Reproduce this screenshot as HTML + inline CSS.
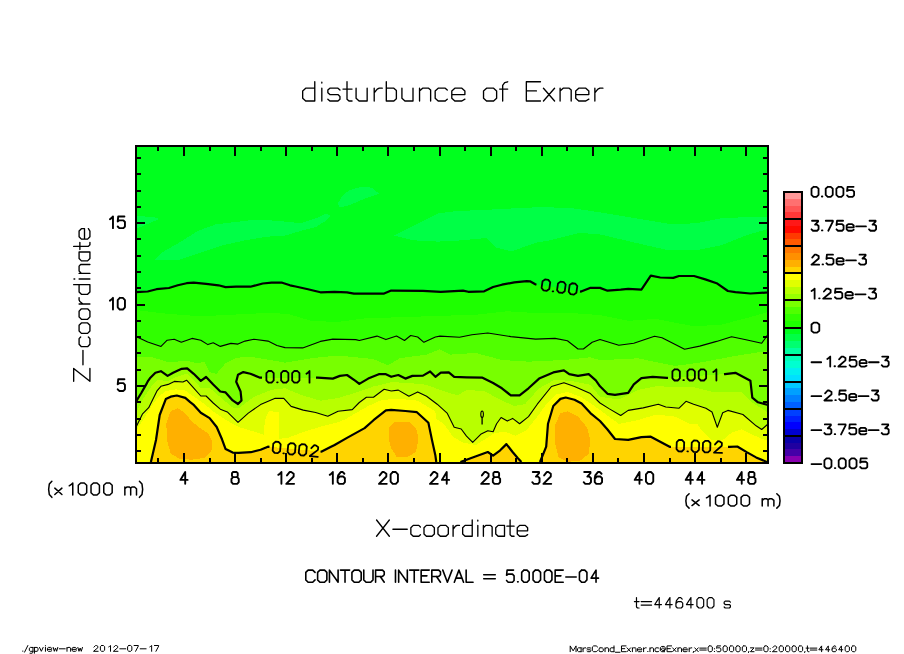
<!DOCTYPE html>
<html><head><meta charset="utf-8"><style>
html,body{margin:0;padding:0;background:#fff;width:904px;height:654px;overflow:hidden}
svg{display:block}
</style></head><body>
<svg width="904" height="654" viewBox="0 0 904 654" shape-rendering="crispEdges">
<svg x="136" y="146" width="632" height="317" viewBox="136 146 632 317" overflow="hidden"><rect x="136" y="146" width="632" height="317" fill="#00ff1e"/><polygon points="154.5,259.9 161.8,252.6 178.9,242.8 198.5,230.6 215.7,224.4 235.2,222.0 257.3,219.5 276.8,220.8 301.3,223.2 316.0,218.3 325.8,213.4 330.7,215.9 325.8,220.8 316.0,226.9 301.3,230.6 286.6,235.4 267.0,236.7 245.0,240.3 223.0,245.2 201.0,252.6 178.9,259.9" fill="#00ff46"/><polygon points="136.0,216.0 153.0,217.0 159.0,219.0 150.0,223.0 136.0,229.0" fill="#00ff46"/><polygon points="337.5,204.0 343.0,195.0 350.0,190.0 362.0,186.5 372.0,187.7 379.0,193.8 364.5,198.7 350.0,205.0 340.0,207.5" fill="#00ff46"/><polygon points="393.8,235.4 413.4,225.7 437.9,213.4 457.5,211.0 486.8,209.8 511.3,208.5 535.8,207.3 550.0,207.3 574.5,208.5 599.0,212.2 635.7,218.3 672.4,224.4 696.8,223.2 721.3,218.3 745.8,217.1 768.0,217.0 768.0,229.0 745.8,235.4 721.3,245.2 696.8,250.1 667.5,250.1 635.7,242.8 599.0,234.2 579.4,233.0 550.0,240.3 535.8,242.8 511.3,251.4 496.6,247.7 486.8,237.9 462.4,240.3 437.9,241.6 413.4,240.3" fill="#00ff46"/><polygon points="136.0,292.2 147.7,291.5 156.5,289.2 168.9,288.0 177.8,285.3 186.6,283.2 193.7,282.7 206.1,283.9 218.5,285.3 225.6,287.1 236.2,286.7 250.4,286.7 262.7,283.5 271.6,282.7 282.2,282.7 290.0,285.3 295.6,286.5 308.0,289.2 320.4,292.3 334.6,291.8 347.0,292.3 354.0,293.6 384.1,293.6 391.2,290.6 423.0,290.9 440.8,291.8 463.0,290.6 468.3,291.8 484.2,291.3 493.1,287.0 501.9,284.7 514.3,282.4 526.7,281.2 530.0,281.3 535.3,284.3 581.1,291.6 590.0,287.9 600.0,287.9 607.5,290.7 620.7,289.7 628.2,288.8 641.4,289.7 650.8,275.6 660.2,277.5 673.3,277.9 679.0,276.0 694.0,276.0 705.3,279.4 716.6,283.2 727.9,291.0 735.4,292.2 750.4,293.5 765.5,292.6 768.0,292.5 768.0,465.0 136.0,465.0" fill="#1eff00"/><polygon points="136.0,310.0 165.4,313.6 200.8,316.3 236.2,314.5 271.6,312.7 290.0,314.5 311.5,321.0 338.1,321.9 364.6,318.4 391.2,317.5 417.7,316.6 445.0,315.7 475.4,314.8 507.3,311.3 537.3,313.1 572.7,313.1 600.0,315.1 628.2,320.8 656.4,318.9 694.0,326.4 722.2,324.5 750.4,317.0 768.0,312.0 768.0,465.0 136.0,465.0" fill="#30ff00"/><polygon points="136.0,336.6 147.7,342.0 161.0,346.4 167.2,340.2 174.2,339.3 181.3,342.3 192.0,338.4 200.8,340.2 207.9,344.6 213.2,342.8 220.3,346.4 230.9,343.4 238.0,344.1 245.0,341.1 253.9,339.3 268.0,341.1 276.9,345.5 285.0,347.6 302.7,347.9 320.4,341.4 332.8,339.1 355.8,339.6 359.3,340.5 377.0,336.1 385.9,339.6 396.5,336.1 404.5,340.5 410.7,335.5 417.7,337.0 423.9,342.3 435.4,337.0 440.0,336.1 459.5,337.3 471.9,334.8 487.8,333.0 510.8,336.6 535.6,339.1 555.0,338.4 567.4,340.8 578.0,349.0 583.4,349.0 592.2,342.3 600.0,339.5 618.8,345.2 633.8,343.3 654.5,336.2 662.0,337.7 684.6,349.3 699.7,346.1 716.6,341.4 731.6,336.7 744.8,339.5 761.7,343.3 766.4,336.7 768.0,334.0 768.0,465.0 136.0,465.0" fill="#50ff00"/><polygon points="136.0,356.6 150.0,356.6 169.8,362.5 185.7,360.5 196.4,363.2 204.3,361.9 209.6,372.0 216.3,374.0 225.6,363.2 236.2,357.9 250.0,356.6 285.0,362.6 311.5,358.2 338.1,355.5 373.5,359.1 387.7,365.3 400.0,358.2 426.6,354.6 440.0,349.3 450.6,354.6 475.4,352.9 502.0,360.0 528.5,361.7 563.9,360.0 590.4,357.3 600.0,360.2 637.6,358.3 675.2,365.9 703.4,362.1 731.6,356.5 768.0,350.8 768.0,465.0 136.0,465.0" fill="#78ff00"/><polygon points="136.0,401.6 141.3,393.0 146.2,384.4 148.1,380.8 149.9,378.3 155.4,372.8 160.9,371.2 167.6,375.9 173.1,372.8 181.7,368.8 187.2,368.3 193.7,373.8 200.8,380.9 206.1,377.0 213.2,384.5 220.3,391.5 225.6,392.4 232.7,400.4 238.0,404.0 241.5,400.4 240.6,391.5 236.2,381.8 238.0,374.7 243.3,372.1 250.4,373.8 260.1,377.7 317.7,377.7 332.8,378.6 339.9,375.9 347.0,375.0 355.8,381.2 359.3,383.9 368.2,378.6 378.8,374.2 385.9,374.2 391.2,376.8 398.3,375.0 405.4,378.6 412.4,375.9 423.0,375.6 430.1,371.5 435.4,376.8 440.8,372.7 448.8,372.4 454.2,376.8 466.5,377.3 482.5,377.7 493.1,383.0 501.9,388.3 510.8,395.4 519.6,395.4 528.5,388.3 539.1,378.6 553.3,372.4 563.9,370.3 569.2,374.2 578.0,375.9 588.7,374.2 595.8,380.4 600.0,386.3 607.5,393.8 615.0,394.8 628.2,392.9 633.8,384.4 641.4,378.2 652.7,376.9 666.8,377.9 725.0,374.1 735.4,372.8 750.4,380.7 752.3,397.6 758.0,402.3 768.0,405.0 768.0,465.0 136.0,465.0" fill="#98ff00"/><polygon points="136.0,412.6 143.8,397.9 151.1,386.9 158.4,379.6 167.0,381.4 174.3,377.7 182.9,374.7 187.8,374.1 194.0,380.2 200.8,388.0 209.6,388.0 222.0,398.6 232.7,407.5 239.7,407.5 253.9,396.9 271.6,389.8 285.0,388.3 302.7,395.4 320.4,400.7 338.1,398.0 355.8,392.7 373.5,386.5 391.2,382.1 408.9,383.0 426.6,384.8 440.0,390.0 457.7,395.4 466.5,390.0 484.2,391.0 502.0,400.7 514.3,406.0 525.0,404.2 539.1,388.3 555.0,379.5 572.7,381.2 590.4,384.8 600.0,396.7 618.8,399.5 637.6,390.0 656.4,386.3 694.0,387.3 712.8,392.0 741.0,392.0 750.4,401.4 768.0,412.6 768.0,465.0 136.0,465.0" fill="#b8ff00"/><polygon points="136.0,427.2 142.6,413.8 148.7,407.7 157.2,390.6 160.9,386.3 168.2,384.4 174.3,381.4 182.9,382.0 186.6,380.2 192.0,386.2 200.8,396.0 206.1,396.0 213.2,403.0 220.3,409.2 227.3,411.9 238.0,422.3 248.3,413.1 260.6,404.6 275.2,398.2 283.8,398.4 291.1,406.4 303.3,410.1 315.6,412.5 327.8,416.2 338.1,411.3 352.3,409.6 359.3,402.5 366.4,397.2 373.5,397.2 384.1,389.2 391.2,391.0 398.3,390.1 408.9,396.3 417.7,391.9 426.6,396.3 437.2,404.2 447.1,413.1 454.2,427.3 461.2,429.0 466.5,436.1 472.7,442.3 480.7,434.3 487.8,430.8 493.1,431.7 496.6,423.7 501.1,417.5 507.3,421.1 512.6,418.4 519.6,423.7 528.5,416.6 537.3,404.2 551.5,386.5 563.9,382.7 574.5,386.5 590.4,393.6 600.0,403.0 609.4,408.9 620.7,415.5 628.2,410.4 643.2,407.9 658.3,404.2 665.8,407.0 679.1,408.2 686.0,401.3 693.6,404.3 705.9,408.2 712.0,412.0 717.3,427.3 722.7,412.8 727.9,410.4 742.9,414.5 756.1,425.8 761.7,429.5 768.0,424.0 768.0,465.0 136.0,465.0" fill="#e0ff00"/><polygon points="136.0,431.0 146.2,415.0 152.3,405.2 158.4,396.7 165.8,391.2 175.6,389.3 185.3,390.6 194.0,396.7 204.3,403.9 215.0,412.8 225.6,419.9 238.3,426.9 251.5,430.8 263.5,434.8 265.0,420.0 268.8,410.9 279.4,412.3 279.4,438.8 288.7,437.5 299.3,433.5 311.3,429.5 324.6,425.5 337.9,422.2 345.0,419.5 355.8,413.1 368.2,406.0 382.3,399.8 400.0,398.9 417.7,400.7 435.4,411.3 436.0,418.5 444.0,424.0 453.3,437.0 462.5,442.3 475.8,445.0 486.4,438.4 494.4,433.1 505.0,431.8 515.6,435.8 526.3,430.5 536.9,417.2 547.5,402.6 556.0,394.6 567.4,391.9 581.6,397.2 600.0,410.0 618.8,423.9 637.6,420.2 656.4,414.5 675.3,416.6 690.0,424.0 697.5,424.4 701.8,430.3 711.4,440.0 722.1,440.5 731.8,432.5 741.4,429.3 750.0,433.5 759.6,437.8 768.0,441.0 768.0,465.0 136.0,465.0" fill="#ffff00"/><polygon points="150.9,462.0 156.0,440.0 159.7,415.0 165.8,399.1 170.7,396.7 176.8,395.5 185.3,397.9 190.2,402.2 194.0,405.2 200.8,412.8 209.6,418.1 216.7,427.0 222.0,439.3 225.6,449.1 232.7,452.6 238.6,452.8 250.8,452.2 260.6,449.8 267.9,446.7 321.7,451.6 330.0,447.3 334.6,445.0 347.0,437.9 364.6,428.1 373.5,420.2 385.9,410.4 391.2,409.9 405.4,411.0 416.9,412.2 428.4,422.8 431.9,439.6 435.4,455.6 436.3,462.0 436.3,465.0 150.9,465.0" fill="#ffd400"/><polygon points="460.4,462.0 475.4,456.5 487.8,452.0 493.1,455.6 500.2,450.3 506.4,444.1 512.6,452.0 517.9,458.2 521.4,462.0 521.4,465.0 460.4,465.0" fill="#ffd400"/><polygon points="540.0,462.0 546.2,446.7 548.0,423.7 553.3,406.0 560.4,398.9 565.7,397.5 574.5,399.8 581.6,403.4 590.4,413.1 600.0,421.0 607.5,429.5 615.0,439.0 628.2,439.9 641.4,437.1 650.8,436.7 660.2,441.8 669.6,446.8 729.7,446.8 737.3,446.5 746.7,452.1 756.1,457.4 768.0,462.4 768.0,465.0 540.0,465.0" fill="#ffd400"/><polygon points="166.3,423.4 170.7,411.0 177.8,408.4 184.9,412.8 192.0,421.6 200.8,428.7 207.9,433.1 212.3,441.1 211.4,451.7 204.3,457.9 192.0,459.7 179.6,458.8 170.7,453.5 167.2,441.1" fill="#ffb000"/><polygon points="389.4,427.3 394.7,421.9 408.9,421.9 416.0,428.1 418.6,437.9 416.0,452.0 407.1,457.3 396.5,456.5 391.2,448.5 388.5,437.9" fill="#ffb000"/><polygon points="555.0,425.5 560.4,413.1 567.4,411.3 578.0,416.6 586.9,427.3 590.4,439.6 588.7,453.8 579.8,460.9 567.4,461.8 558.6,457.3 555.0,443.2" fill="#ffb000"/></svg><g shape-rendering="auto"><polyline points="136.0,292.2 147.7,291.5 156.5,289.2 168.9,288.0 177.8,285.3 186.6,283.2 193.7,282.7 206.1,283.9 218.5,285.3 225.6,287.1 236.2,286.7 250.4,286.7 262.7,283.5 271.6,282.7 282.2,282.7 290.0,285.3 295.6,286.5 308.0,289.2 320.4,292.3 334.6,291.8 347.0,292.3 354.0,293.6 384.1,293.6 391.2,290.6 423.0,290.9 440.8,291.8 463.0,290.6 468.3,291.8 484.2,291.3 493.1,287.0 501.9,284.7 514.3,282.4 526.7,281.2 530.0,281.3 535.3,284.3 536.5,284.5" fill="none" stroke="#000" stroke-width="2.2" stroke-linejoin="round"/><polyline points="580.0,291.4 581.1,291.6 590.0,287.9 600.0,287.9 607.5,290.7 620.7,289.7 628.2,288.8 641.4,289.7 650.8,275.6 660.2,277.5 673.3,277.9 679.0,276.0 694.0,276.0 705.3,279.4 716.6,283.2 727.9,291.0 735.4,292.2 750.4,293.5 765.5,292.6 768.0,292.5" fill="none" stroke="#000" stroke-width="2.2" stroke-linejoin="round"/><polyline points="136.0,336.6 147.7,342.0 161.0,346.4 167.2,340.2 174.2,339.3 181.3,342.3 192.0,338.4 200.8,340.2 207.9,344.6 213.2,342.8 220.3,346.4 230.9,343.4 238.0,344.1 245.0,341.1 253.9,339.3 268.0,341.1 276.9,345.5 285.0,347.6 302.7,347.9 320.4,341.4 332.8,339.1 355.8,339.6 359.3,340.5 377.0,336.1 385.9,339.6 396.5,336.1 404.5,340.5 410.7,335.5 417.7,337.0 423.9,342.3 435.4,337.0 440.0,336.1 459.5,337.3 471.9,334.8 487.8,333.0 510.8,336.6 535.6,339.1 555.0,338.4 567.4,340.8 578.0,349.0 583.4,349.0 592.2,342.3 600.0,339.5 618.8,345.2 633.8,343.3 654.5,336.2 662.0,337.7 684.6,349.3 699.7,346.1 716.6,341.4 731.6,336.7 744.8,339.5 761.7,343.3 766.4,336.7 768.0,334.0" fill="none" stroke="#000" stroke-width="1.1" stroke-linejoin="round"/><polyline points="136.0,401.6 141.3,393.0 146.2,384.4 148.1,380.8 149.9,378.3 155.4,372.8 160.9,371.2 167.6,375.9 173.1,372.8 181.7,368.8 187.2,368.3 193.7,373.8 200.8,380.9 206.1,377.0 213.2,384.5 220.3,391.5 225.6,392.4 232.7,400.4 238.0,404.0 241.5,400.4 240.6,391.5 236.2,381.8 238.0,374.7 243.3,372.1 250.4,373.8 260.1,377.7 262.0,377.7" fill="none" stroke="#000" stroke-width="2.2" stroke-linejoin="round"/><polyline points="316.0,377.7 317.7,377.7 332.8,378.6 339.9,375.9 347.0,375.0 355.8,381.2 359.3,383.9 368.2,378.6 378.8,374.2 385.9,374.2 391.2,376.8 398.3,375.0 405.4,378.6 412.4,375.9 423.0,375.6 430.1,371.5 435.4,376.8 440.8,372.7 448.8,372.4 454.2,376.8 466.5,377.3 482.5,377.7 493.1,383.0 501.9,388.3 510.8,395.4 519.6,395.4 528.5,388.3 539.1,378.6 553.3,372.4 563.9,370.3 569.2,374.2 578.0,375.9 588.7,374.2 595.8,380.4 600.0,386.3 607.5,393.8 615.0,394.8 628.2,392.9 633.8,384.4 641.4,378.2 652.7,376.9 666.8,377.9 668.0,377.8" fill="none" stroke="#000" stroke-width="2.2" stroke-linejoin="round"/><polyline points="724.0,374.2 725.0,374.1 735.4,372.8 750.4,380.7 752.3,397.6 758.0,402.3 768.0,405.0" fill="none" stroke="#000" stroke-width="2.2" stroke-linejoin="round"/><polyline points="136.0,427.2 142.6,413.8 148.7,407.7 157.2,390.6 160.9,386.3 168.2,384.4 174.3,381.4 182.9,382.0 186.6,380.2 192.0,386.2 200.8,396.0 206.1,396.0 213.2,403.0 220.3,409.2 227.3,411.9 238.0,422.3 248.3,413.1 260.6,404.6 275.2,398.2 283.8,398.4 291.1,406.4 303.3,410.1 315.6,412.5 327.8,416.2 338.1,411.3 352.3,409.6 359.3,402.5 366.4,397.2 373.5,397.2 384.1,389.2 391.2,391.0 398.3,390.1 408.9,396.3 417.7,391.9 426.6,396.3 437.2,404.2 447.1,413.1 454.2,427.3 461.2,429.0 466.5,436.1 472.7,442.3 480.7,434.3 487.8,430.8 493.1,431.7 496.6,423.7 501.1,417.5 507.3,421.1 512.6,418.4 519.6,423.7 528.5,416.6 537.3,404.2 551.5,386.5 563.9,382.7 574.5,386.5 590.4,393.6 600.0,403.0 609.4,408.9 620.7,415.5 628.2,410.4 643.2,407.9 658.3,404.2 665.8,407.0 679.1,408.2 686.0,401.3 693.6,404.3 705.9,408.2 712.0,412.0 717.3,427.3 722.7,412.8 727.9,410.4 742.9,414.5 756.1,425.8 761.7,429.5 768.0,424.0" fill="none" stroke="#000" stroke-width="1.1" stroke-linejoin="round"/><polyline points="150.9,462.0 156.0,440.0 159.7,415.0 165.8,399.1 170.7,396.7 176.8,395.5 185.3,397.9 190.2,402.2 194.0,405.2 200.8,412.8 209.6,418.1 216.7,427.0 222.0,439.3 225.6,449.1 232.7,452.6 238.6,452.8 250.8,452.2 260.6,449.8 267.9,446.7 269.5,446.8" fill="none" stroke="#000" stroke-width="2.2" stroke-linejoin="round"/><polyline points="320.5,451.5 321.7,451.6 330.0,447.3 334.6,445.0 347.0,437.9 364.6,428.1 373.5,420.2 385.9,410.4 391.2,409.9 405.4,411.0 416.9,412.2 428.4,422.8 431.9,439.6 435.4,455.6 436.3,462.0" fill="none" stroke="#000" stroke-width="2.2" stroke-linejoin="round"/><polyline points="460.4,462.0 475.4,456.5 487.8,452.0 493.1,455.6 500.2,450.3 506.4,444.1 512.6,452.0 517.9,458.2 521.4,462.0" fill="none" stroke="#000" stroke-width="2.2" stroke-linejoin="round"/><polyline points="540.0,462.0 546.2,446.7 548.0,423.7 553.3,406.0 560.4,398.9 565.7,397.5 574.5,399.8 581.6,403.4 590.4,413.1 600.0,421.0 607.5,429.5 615.0,439.0 628.2,439.9 641.4,437.1 650.8,436.7 660.2,441.8 669.6,446.8 671.0,446.8" fill="none" stroke="#000" stroke-width="2.2" stroke-linejoin="round"/><polyline points="728.0,446.8 729.7,446.8 737.3,446.5 746.7,452.1 756.1,457.4 768.0,462.4" fill="none" stroke="#000" stroke-width="2.2" stroke-linejoin="round"/><ellipse cx="482.1" cy="414.3" rx="1.3" ry="3.3" fill="none" stroke="#000" stroke-width="1.1"/><path d="M482.1 417.5V424.5" stroke="#000" stroke-width="1.3"/></g><g fill="none" stroke="#000" stroke-linecap="round" stroke-linejoin="round" shape-rendering="auto"><path d="M2.99 -12.60L6.11 -12.60L8.20 -10.37L8.20 -3.13L6.11 -0.90L2.99 -0.90L0.90 -3.13L0.90 -10.37L2.99 -12.60M11.62 -1.23L12.18 -1.23M17.69 -12.60L20.81 -12.60L22.90 -10.37L22.90 -3.13L20.81 -0.90L17.69 -0.90L15.60 -3.13L15.60 -10.37L17.69 -12.60M28.75 -12.60L31.87 -12.60L33.95 -10.37L33.95 -3.13L31.87 -0.90L28.75 -0.90L26.66 -3.13L26.66 -10.37L28.75 -12.60M40.91 -9.81L42.46 -10.93L44.00 -12.60L44.00 -0.90" stroke-width="1.8" transform="translate(265.5 383.6) rotate(0)"/><path d="M3.03 -12.10L6.22 -12.10L8.35 -9.97L8.35 -3.03L6.22 -0.90L3.03 -0.90L0.90 -3.03L0.90 -9.97L3.03 -12.10M11.84 -1.22L12.42 -1.22M18.04 -12.10L21.23 -12.10L23.36 -9.97L23.36 -3.03L21.23 -0.90L18.04 -0.90L15.91 -3.03L15.91 -9.97L18.04 -12.10M29.33 -12.10L32.51 -12.10L34.64 -9.97L34.64 -3.03L32.51 -0.90L29.33 -0.90L27.20 -3.03L27.20 -9.97L29.33 -12.10M41.75 -9.43L43.32 -10.50L44.90 -12.10L44.90 -0.90" stroke-width="1.8" transform="translate(671.5 381.4) rotate(0)"/><path d="M3.02 -12.10L6.20 -12.10L8.32 -9.97L8.32 -3.03L6.20 -0.90L3.02 -0.90L0.90 -3.03L0.90 -9.97L3.02 -12.10M11.80 -1.22L12.37 -1.22M17.98 -12.10L21.16 -12.10L23.28 -9.97L23.28 -3.03L21.16 -0.90L17.98 -0.90L15.86 -3.03L15.86 -9.97L17.98 -12.10M29.23 -12.10L32.40 -12.10L34.53 -9.97L34.53 -3.03L32.40 -0.90L29.23 -0.90L27.10 -3.03L27.10 -9.97L29.23 -12.10M39.15 -8.90L41.38 -11.57L41.83 -12.10L43.43 -12.10L45.94 -10.50L45.94 -7.83L38.41 -0.90L46.40 -0.90" stroke-width="1.8" transform="translate(271.5 453.5) rotate(5.2)"/><path d="M3.03 -12.40L6.21 -12.40L8.34 -10.21L8.34 -3.09L6.21 -0.90L3.03 -0.90L0.90 -3.09L0.90 -10.21L3.03 -12.40M11.83 -1.23L12.40 -1.23M18.02 -12.40L21.20 -12.40L23.33 -10.21L23.33 -3.09L21.20 -0.90L18.02 -0.90L15.89 -3.09L15.89 -10.21L18.02 -12.40M29.29 -12.40L32.47 -12.40L34.60 -10.21L34.60 -3.09L32.47 -0.90L29.29 -0.90L27.16 -3.09L27.16 -10.21L29.29 -12.40M39.23 -9.11L41.47 -11.85L41.92 -12.40L43.52 -12.40L46.04 -10.76L46.04 -8.02L38.49 -0.90L46.50 -0.90" stroke-width="1.8" transform="translate(675.5 452.2) rotate(2.0)"/><path d="M3.12 -11.90L6.43 -11.90L8.65 -9.80L8.65 -3.00L6.43 -0.90L3.12 -0.90L0.90 -3.00L0.90 -9.80L3.12 -11.90M12.28 -1.21L12.88 -1.21M18.73 -11.90L22.04 -11.90L24.26 -9.80L24.26 -3.00L22.04 -0.90L18.73 -0.90L16.51 -3.00L16.51 -9.80L18.73 -11.90M30.47 -11.90L33.78 -11.90L36.00 -9.80L36.00 -3.00L33.78 -0.90L30.47 -0.90L28.25 -3.00L28.25 -9.80L30.47 -11.90" stroke-width="1.8" transform="translate(540.3 290.8) rotate(8)"/></g><rect x="136" y="146" width="632" height="317" fill="none" stroke="#000" stroke-width="2"/><path d="M158.4 463v-5M158.4 146v5M184.0 463v-10M184.0 146v10M209.6 463v-5M209.6 146v5M235.1 463v-10M235.1 146v10M260.7 463v-5M260.7 146v5M286.2 463v-10M286.2 146v10M311.8 463v-5M311.8 146v5M337.3 463v-10M337.3 146v10M362.9 463v-5M362.9 146v5M388.4 463v-10M388.4 146v10M414.0 463v-5M414.0 146v5M439.5 463v-10M439.5 146v10M465.1 463v-5M465.1 146v5M490.6 463v-10M490.6 146v10M516.2 463v-5M516.2 146v5M541.8 463v-10M541.8 146v10M567.3 463v-5M567.3 146v5M592.9 463v-10M592.9 146v10M618.4 463v-5M618.4 146v5M644.0 463v-10M644.0 146v10M669.5 463v-5M669.5 146v5M695.1 463v-10M695.1 146v10M720.6 463v-5M720.6 146v5M746.2 463v-10M746.2 146v10M136 451.0h5M768 451.0h-5M136 434.7h5M768 434.7h-5M136 418.5h5M768 418.5h-5M136 402.2h5M768 402.2h-5M136 385.9h9M768 385.9h-9M136 369.6h5M768 369.6h-5M136 353.3h5M768 353.3h-5M136 337.1h5M768 337.1h-5M136 320.8h5M768 320.8h-5M136 304.5h9M768 304.5h-9M136 288.2h5M768 288.2h-5M136 271.9h5M768 271.9h-5M136 255.7h5M768 255.7h-5M136 239.4h5M768 239.4h-5M136 223.1h9M768 223.1h-9M136 206.8h5M768 206.8h-5M136 190.5h5M768 190.5h-5M136 174.3h5M768 174.3h-5M136 158.0h5M768 158.0h-5" stroke="#000" stroke-width="2" fill="none"/><g fill="none" stroke="#000" stroke-linecap="round" stroke-linejoin="round" shape-rendering="auto"><path d="M314.77 81.78L314.77 101.03M314.77 88.19L305.70 88.19L302.68 90.94L302.68 98.28L305.70 101.03L314.77 101.03M321.82 88.19L321.82 101.03M321.82 83.06L321.82 82.14M339.95 90.03L337.94 88.19L329.88 88.19L327.86 90.03L327.86 92.78L329.88 94.61L337.94 94.61L339.95 96.44L339.95 99.19L337.94 101.03L329.88 101.03L327.86 99.19M347.01 81.78L347.01 99.19L349.02 101.03L352.04 101.03M342.98 89.11L352.04 89.11M356.08 88.19L356.08 98.28L359.10 101.03L367.16 101.03M367.16 88.19L367.16 101.03M374.21 88.19L374.21 101.03M374.21 92.78L377.23 89.11L379.25 88.19L382.27 88.19M386.30 81.78L386.30 101.03M386.30 88.19L393.86 88.19L396.38 90.48L396.38 98.73L393.86 101.03L386.30 101.03M401.92 88.19L401.92 98.28L404.94 101.03L413.00 101.03M413.00 88.19L413.00 101.03M419.55 88.19L419.55 101.03M419.55 90.94L422.57 88.19L428.62 88.19L430.63 90.03L430.63 101.03M447.26 90.03L445.24 88.19L438.19 88.19L435.17 90.94L435.17 98.28L438.19 101.03L445.24 101.03L447.26 99.19M451.79 94.61L464.89 94.61L464.89 90.94L461.87 88.19L454.82 88.19L451.79 90.94L451.79 98.28L454.82 101.03L461.87 101.03L464.89 99.19M486.55 88.19L493.61 88.19L496.63 90.94L496.63 98.28L493.61 101.03L486.55 101.03L483.53 98.28L483.53 90.94L486.55 88.19M502.67 101.03L502.67 85.44L504.69 82.69L507.71 81.78M499.65 89.11L507.71 89.11M540.46 81.78L526.35 81.78L526.35 101.03L540.46 101.03M526.35 90.94L536.43 90.94M543.48 88.19L554.56 101.03M554.56 88.19L543.48 101.03M560.10 88.19L560.10 101.03M560.10 90.94L563.13 88.19L569.17 88.19L571.19 90.03L571.19 101.03M575.72 94.61L588.82 94.61L588.82 90.94L585.80 88.19L578.74 88.19L575.72 90.94L575.72 98.28L578.74 101.03L585.80 101.03L588.82 99.19M594.86 88.19L594.86 101.03M594.86 92.78L597.89 89.11L599.90 88.19L602.92 88.19" stroke-width="1.35"/><path d="M187.61 479.92L180.39 479.92L185.20 472.05L185.20 483.85" stroke-width="1.9"/><path d="M233.02 472.05L236.67 472.05L237.72 473.17L237.72 475.98L236.67 477.11L233.02 477.11L231.98 475.98L231.98 473.17L233.02 472.05M233.02 477.11L237.20 477.11L238.76 478.79L238.76 482.16L237.20 483.85L233.02 483.85L231.46 482.16L231.46 478.79L233.02 477.11" stroke-width="1.9"/><path d="M278.32 474.86L279.87 473.74L281.41 472.05L281.41 483.85M286.97 475.42L289.17 472.61L289.62 472.05L291.19 472.05L293.66 473.74L293.66 476.55L286.24 483.85L294.11 483.85" stroke-width="1.9"/><path d="M329.74 474.86L331.28 473.74L332.83 472.05L332.83 483.85M344.39 473.74L342.82 472.05L340.73 472.05L338.13 475.42L337.60 478.23L337.60 482.16L339.17 483.85L343.35 483.85L344.91 482.16L344.91 478.23L343.35 476.55L339.70 476.55L337.60 478.79" stroke-width="1.9"/><path d="M379.67 475.42L381.86 472.61L382.31 472.05L383.88 472.05L386.35 473.74L386.35 476.55L378.94 483.85L386.80 483.85M392.71 472.05L395.84 472.05L397.93 474.30L397.93 481.60L395.84 483.85L392.71 483.85L390.62 481.60L390.62 474.30L392.71 472.05" stroke-width="1.9"/><path d="M430.67 475.42L432.86 472.61L433.31 472.05L434.89 472.05L437.36 473.74L437.36 476.55L429.94 483.85L437.81 483.85M449.14 479.92L441.91 479.92L446.73 472.05L446.73 483.85" stroke-width="1.9"/><path d="M481.88 475.42L484.07 472.61L484.52 472.05L486.10 472.05L488.57 473.74L488.57 476.55L481.15 483.85L489.02 483.85M494.40 472.05L498.05 472.05L499.10 473.17L499.10 475.98L498.05 477.11L494.40 477.11L493.36 475.98L493.36 473.17L494.40 472.05M494.40 477.11L498.58 477.11L500.14 478.79L500.14 482.16L498.58 483.85L494.40 483.85L492.84 482.16L492.84 478.79L494.40 477.11" stroke-width="1.9"/><path d="M532.78 472.05L539.04 472.05L539.04 473.17L535.91 476.55L538.00 476.55L539.56 478.23L539.56 482.16L538.00 483.85L533.82 483.85L532.26 482.16M544.12 475.42L546.31 472.61L546.76 472.05L548.33 472.05L550.80 473.74L550.80 476.55L543.39 483.85L551.25 483.85" stroke-width="1.9"/><path d="M584.20 472.05L590.46 472.05L590.46 473.17L587.33 476.55L589.42 476.55L590.98 478.23L590.98 482.16L589.42 483.85L585.24 483.85L583.68 482.16M601.53 473.74L599.96 472.05L597.88 472.05L595.27 475.42L594.75 478.23L594.75 482.16L596.31 483.85L600.49 483.85L602.05 482.16L602.05 478.23L600.49 476.55L596.84 476.55L594.75 478.79" stroke-width="1.9"/><path d="M641.91 479.92L634.68 479.92L639.50 472.05L639.50 483.85M648.05 472.05L651.17 472.05L653.26 474.30L653.26 481.60L651.17 483.85L648.05 483.85L645.96 481.60L645.96 474.30L648.05 472.05" stroke-width="1.9"/><path d="M692.92 479.92L685.69 479.92L690.51 472.05L690.51 483.85M704.47 479.92L697.24 479.92L702.06 472.05L702.06 483.85" stroke-width="1.9"/><path d="M744.13 479.92L736.90 479.92L741.72 472.05L741.72 483.85M749.73 472.05L753.39 472.05L754.44 473.17L754.44 475.98L753.39 477.11L749.73 477.11L748.69 475.98L748.69 473.17L749.73 472.05M749.73 477.11L753.91 477.11L755.48 478.79L755.48 482.16L753.91 483.85L749.73 483.85L748.17 482.16L748.17 478.79L749.73 477.11" stroke-width="1.9"/><path d="M124.43 379.25L118.23 379.25L117.71 384.26L119.26 383.15L123.40 383.15L124.95 384.82L124.95 389.28L123.40 390.95L119.26 390.95L117.71 389.28" stroke-width="1.9"/><path d="M109.91 300.64L111.44 299.52L112.97 297.85L112.97 309.55M119.78 297.85L122.88 297.85L124.95 300.08L124.95 307.32L122.88 309.55L119.78 309.55L117.71 307.32L117.71 300.08L119.78 297.85" stroke-width="1.9"/><path d="M109.91 219.24L111.44 218.12L112.97 216.45L112.97 228.15M124.43 216.45L118.23 216.45L117.71 221.46L119.26 220.35L123.40 220.35L124.95 222.02L124.95 226.48L123.40 228.15L119.26 228.15L117.71 226.48" stroke-width="1.9"/><path d="M51.88 481.22L49.30 484.10L48.65 489.29L49.30 494.47L51.88 497.35M54.80 488.14L61.91 494.47M61.91 488.14L54.80 494.47M69.22 485.83L71.00 484.68L72.78 482.95L72.78 495.05M80.69 482.95L84.28 482.95L86.69 485.25L86.69 492.75L84.28 495.05L80.69 495.05L78.28 492.75L78.28 485.25L80.69 482.95M93.43 482.95L97.03 482.95L99.43 485.25L99.43 492.75L97.03 495.05L93.43 495.05L91.02 492.75L91.02 485.25L93.43 482.95M106.18 482.95L109.77 482.95L112.18 485.25L112.18 492.75L109.77 495.05L106.18 495.05L103.77 492.75L103.77 485.25L106.18 482.95M124.86 486.98L124.86 495.05M124.86 488.71L126.80 486.98L129.39 486.98L130.68 488.14L130.68 495.05M130.68 488.14L131.98 486.98L134.56 486.98L136.50 488.71L136.50 495.05M139.42 481.22L142.00 484.10L142.65 489.29L142.00 494.47L139.42 497.35" stroke-width="1.5"/><path d="M689.09 493.71L686.50 496.28L685.85 500.91L686.50 505.54L689.09 508.11M692.01 499.88L699.14 505.54M699.14 499.88L692.01 505.54M706.47 497.82L708.25 496.79L710.03 495.25L710.03 506.05M717.95 495.25L721.56 495.25L723.97 497.31L723.97 503.99L721.56 506.05L717.95 506.05L715.54 503.99L715.54 497.31L717.95 495.25M730.73 495.25L734.33 495.25L736.74 497.31L736.74 503.99L734.33 506.05L730.73 506.05L728.31 503.99L728.31 497.31L730.73 495.25M743.50 495.25L747.10 495.25L749.51 497.31L749.51 503.99L747.10 506.05L743.50 506.05L741.09 503.99L741.09 497.31L743.50 495.25M762.22 498.85L762.22 506.05M762.22 500.39L764.17 498.85L766.76 498.85L768.06 499.88L768.06 506.05M768.06 499.88L769.35 498.85L771.95 498.85L773.89 500.39L773.89 506.05M776.81 493.71L779.40 496.28L780.05 500.91L779.40 505.54L776.81 508.11" stroke-width="1.5"/><path d="M376.57 519.98L389.33 536.23M389.33 519.98L376.57 536.23M392.92 529.26L407.26 529.26M420.42 526.94L418.82 525.39L413.24 525.39L410.85 527.71L410.85 533.90L413.24 536.23L418.82 536.23L420.42 534.68M426.39 525.39L431.97 525.39L434.36 527.71L434.36 533.90L431.97 536.23L426.39 536.23L424.00 533.90L424.00 527.71L426.39 525.39M440.34 525.39L445.92 525.39L448.31 527.71L448.31 533.90L445.92 536.23L440.34 536.23L437.95 533.90L437.95 527.71L440.34 525.39M453.10 525.39L453.10 536.23M453.10 529.26L455.49 526.17L457.08 525.39L459.47 525.39M472.23 519.98L472.23 536.23M472.23 525.39L465.05 525.39L462.66 527.71L462.66 533.90L465.05 536.23L472.23 536.23M477.81 525.39L477.81 536.23M477.81 521.06L477.81 520.28M483.39 525.39L483.39 536.23M483.39 527.71L485.78 525.39L490.56 525.39L492.15 526.94L492.15 536.23M504.51 525.39L504.51 536.23M504.51 525.39L498.13 525.39L495.74 527.71L495.74 533.90L498.13 536.23L504.51 536.23M510.09 519.98L510.09 534.68L511.68 536.23L514.07 536.23M506.90 526.17L514.07 526.17M517.26 530.81L527.62 530.81L527.62 527.71L525.23 525.39L519.65 525.39L517.26 527.71L517.26 533.90L519.65 536.23L525.23 536.23L527.62 534.68" stroke-width="1.35"/><path d="M0.68 -16.93L13.56 -16.93L0.68 -0.68L13.56 -0.68M17.19 -7.64L31.69 -7.64M44.98 -9.96L43.37 -11.51L37.73 -11.51L35.31 -9.19L35.31 -3.00L37.73 -0.68L43.37 -0.68L44.98 -2.22M51.02 -11.51L56.66 -11.51L59.08 -9.19L59.08 -3.00L56.66 -0.68L51.02 -0.68L48.60 -3.00L48.60 -9.19L51.02 -11.51M65.12 -11.51L70.76 -11.51L73.17 -9.19L73.17 -3.00L70.76 -0.68L65.12 -0.68L62.70 -3.00L62.70 -9.19L65.12 -11.51M78.01 -11.51L78.01 -0.68M78.01 -7.64L80.42 -10.73L82.03 -11.51L84.45 -11.51M97.34 -16.93L97.34 -0.68M97.34 -11.51L90.09 -11.51L87.67 -9.19L87.67 -3.00L90.09 -0.68L97.34 -0.68M102.98 -11.51L102.98 -0.68M102.98 -15.84L102.98 -16.62M108.62 -11.51L108.62 -0.68M108.62 -9.19L111.03 -11.51L115.87 -11.51L117.48 -9.96L117.48 -0.68M129.96 -11.51L129.96 -0.68M129.96 -11.51L123.52 -11.51L121.10 -9.19L121.10 -3.00L123.52 -0.68L129.96 -0.68M135.60 -16.93L135.60 -2.22L137.21 -0.68L139.63 -0.68M132.38 -10.73L139.63 -10.73M142.85 -6.09L153.33 -6.09L153.33 -9.19L150.91 -11.51L145.27 -11.51L142.85 -9.19L142.85 -3.00L145.27 -0.68L150.91 -0.68L153.33 -2.22" stroke-width="1.35" transform="translate(90.6 382) rotate(-90)"/><path d="M315.03 572.40L312.72 570.10L308.11 570.10L305.80 572.40L305.80 579.90L308.11 582.20L312.72 582.20L315.03 579.90M319.93 570.10L324.55 570.10L326.85 572.40L326.85 579.90L324.55 582.20L319.93 582.20L317.62 579.90L317.62 572.40L319.93 570.10M329.45 582.20L329.45 570.10L338.10 582.20L338.10 570.10M340.41 570.10L349.64 570.10M345.02 570.10L345.02 582.20M354.25 570.10L358.87 570.10L361.17 572.40L361.17 579.90L358.87 582.20L354.25 582.20L351.94 579.90L351.94 572.40L354.25 570.10M363.77 570.10L363.77 579.90L366.07 582.20L370.69 582.20L373.00 579.90L373.00 570.10M375.59 582.20L375.59 570.10L382.51 570.10L384.24 571.83L384.24 574.71L382.51 576.44L375.59 576.44M380.21 576.44L384.24 582.20M395.49 570.10L395.49 582.20M398.66 582.20L398.66 570.10L407.32 582.20L407.32 570.10M409.62 570.10L418.85 570.10M414.24 570.10L414.24 582.20M429.23 570.10L421.16 570.10L421.16 582.20L429.23 582.20M421.16 575.86L426.93 575.86M431.83 582.20L431.83 570.10L438.75 570.10L440.48 571.83L440.48 574.71L438.75 576.44L431.83 576.44M436.44 576.44L440.48 582.20M442.79 570.10L447.40 582.20L452.02 570.10M454.32 582.20L458.94 570.10L463.55 582.20M456.05 578.17L461.82 578.17M466.15 570.10L466.15 582.20L473.07 582.20M483.74 574.71L495.28 574.71M483.74 578.74L495.28 578.74M513.54 570.10L507.12 570.10L506.58 575.29L508.19 574.13L512.48 574.13L514.08 575.86L514.08 580.47L512.48 582.20L508.19 582.20L506.58 580.47M517.60 581.85L518.18 581.85M523.84 570.10L527.05 570.10L529.19 572.40L529.19 579.90L527.05 582.20L523.84 582.20L521.69 579.90L521.69 572.40L523.84 570.10M535.20 570.10L538.41 570.10L540.56 572.40L540.56 579.90L538.41 582.20L535.20 582.20L533.06 579.90L533.06 572.40L535.20 570.10M546.57 570.10L549.77 570.10L551.92 572.40L551.92 579.90L549.77 582.20L546.57 582.20L544.42 579.90L544.42 572.40L546.57 570.10M563.22 570.10L555.15 570.10L555.15 582.20L563.22 582.20M555.15 575.86L560.92 575.86M565.82 577.01L576.20 577.01M581.58 570.10L584.78 570.10L586.93 572.40L586.93 579.90L584.78 582.20L581.58 582.20L579.43 579.90L579.43 572.40L581.58 570.10M598.50 578.17L591.08 578.17L596.03 570.10L596.03 582.20" stroke-width="1.6"/><path d="M636.48 597.60L636.48 607.01L637.53 608.00L639.09 608.00M634.40 601.56L639.09 601.56M641.17 601.56L651.59 601.56M641.17 605.03L651.59 605.03M661.47 604.53L654.77 604.53L659.23 597.60L659.23 608.00M672.18 604.53L665.48 604.53L669.94 597.60L669.94 608.00M682.22 599.09L680.76 597.60L678.83 597.60L676.41 600.57L675.93 603.05L675.93 606.51L677.38 608.00L681.25 608.00L682.70 606.51L682.70 603.05L681.25 601.56L677.87 601.56L675.93 603.54M693.15 604.53L686.45 604.53L690.92 597.60L690.92 608.00M698.84 597.60L701.74 597.60L703.68 599.58L703.68 606.02L701.74 608.00L698.84 608.00L696.90 606.02L696.90 599.58L698.84 597.60M709.10 597.60L712.00 597.60L713.94 599.58L713.94 606.02L712.00 608.00L709.10 608.00L707.17 606.02L707.17 599.58L709.10 597.60M730.40 602.06L729.36 601.07L725.19 601.07L724.15 602.06L724.15 603.54L725.19 604.53L729.36 604.53L730.40 605.52L730.40 607.01L729.36 608.00L725.19 608.00L724.15 607.01" stroke-width="1.2"/><path d="M22.60 651.13L22.93 651.13M27.86 645.50L24.57 652.13M32.96 647.43L32.96 652.40L31.97 653.23L30.00 653.23M32.96 647.43L30.33 647.43L29.34 648.26L29.34 650.47L30.33 651.30L32.96 651.30M34.44 647.43L34.44 653.23M34.44 647.43L37.07 647.43L38.05 648.26L38.05 650.47L37.07 651.30L34.44 651.30M39.53 647.43L41.34 651.30L43.15 647.43M45.45 647.43L45.45 651.30M45.45 645.89L45.45 645.61M47.43 649.37L51.70 649.37L51.70 648.26L50.71 647.43L48.41 647.43L47.43 648.26L47.43 650.47L48.41 651.30L50.71 651.30L51.70 650.75M53.18 647.43L54.33 651.30L55.48 647.99L56.63 651.30L57.78 647.43M59.26 648.81L65.18 648.81M66.99 647.43L66.99 651.30M66.99 648.26L67.98 647.43L69.95 647.43L70.61 647.99L70.61 651.30M72.09 649.37L76.36 649.37L76.36 648.26L75.38 647.43L73.07 647.43L72.09 648.26L72.09 650.47L73.07 651.30L75.38 651.30L76.36 650.75M77.84 647.43L78.99 651.30L80.14 647.99L81.29 651.30L82.45 647.43M93.95 647.16L95.24 645.78L95.50 645.50L96.42 645.50L97.87 646.33L97.87 647.71L93.53 651.30L98.13 651.30M101.59 645.50L103.42 645.50L104.64 646.60L104.64 650.20L103.42 651.30L101.59 651.30L100.37 650.20L100.37 646.60L101.59 645.50M108.72 646.88L109.62 646.33L110.53 645.50L110.53 651.30M113.78 647.16L115.07 645.78L115.33 645.50L116.25 645.50L117.70 646.33L117.70 647.71L113.36 651.30L117.96 651.30M119.83 648.81L125.75 648.81M128.82 645.50L130.64 645.50L131.87 646.60L131.87 650.20L130.64 651.30L128.82 651.30L127.59 650.20L127.59 646.60L128.82 645.50M134.07 645.50L138.35 645.50L138.35 646.05L135.60 651.30M140.19 648.81L146.11 648.81M149.82 646.88L150.73 646.33L151.63 645.50L151.63 651.30M154.43 645.50L158.70 645.50L158.70 646.05L155.95 651.30" stroke-width="1.0"/><path d="M570.20 651.70L570.20 645.90L573.13 650.87L576.06 645.90L576.06 651.70M581.11 647.83L581.11 651.70M581.11 647.83L578.50 647.83L577.52 648.66L577.52 650.87L578.50 651.70L581.11 651.70M583.06 647.83L583.06 651.70M583.06 649.21L584.04 648.11L584.69 647.83L585.66 647.83M590.87 648.39L590.22 647.83L587.62 647.83L586.97 648.39L586.97 649.21L587.62 649.77L590.22 649.77L590.87 650.32L590.87 651.15L590.22 651.70L587.62 651.70L586.97 651.15M597.55 647.00L596.24 645.90L593.64 645.90L592.34 647.00L592.34 650.60L593.64 651.70L596.24 651.70L597.55 650.60M599.99 647.83L602.27 647.83L603.24 648.66L603.24 650.87L602.27 651.70L599.99 651.70L599.01 650.87L599.01 648.66L599.99 647.83M605.03 647.83L605.03 651.70M605.03 648.66L606.01 647.83L607.96 647.83L608.62 648.39L608.62 651.70M613.99 645.90L613.99 651.70M613.99 647.83L611.06 647.83L610.08 648.66L610.08 650.87L611.06 651.70L613.99 651.70M615.45 652.25L620.01 652.25M626.03 645.90L621.47 645.90L621.47 651.70L626.03 651.70M621.47 648.66L624.73 648.66M627.01 647.83L630.59 651.70M630.59 647.83L627.01 651.70M632.38 647.83L632.38 651.70M632.38 648.66L633.36 647.83L635.31 647.83L635.96 648.39L635.96 651.70M637.43 649.77L641.66 649.77L641.66 648.66L640.68 647.83L638.40 647.83L637.43 648.66L637.43 650.87L638.40 651.70L640.68 651.70L641.66 651.15M643.61 647.83L643.61 651.70M643.61 649.21L644.59 648.11L645.24 647.83L646.22 647.83M647.68 651.53L648.01 651.53M649.96 647.83L649.96 651.70M649.96 648.66L650.94 647.83L652.89 647.83L653.54 648.39L653.54 651.70M658.91 648.39L658.26 647.83L655.98 647.83L655.01 648.66L655.01 650.87L655.98 651.70L658.26 651.70L658.91 651.15M664.28 650.87L664.28 648.66L663.31 648.11L662.33 648.11L661.68 648.66L661.68 650.04L662.33 650.60L664.28 650.60L665.26 650.04L665.26 647.56L663.96 646.45L661.68 646.45L660.38 647.56L660.38 650.60L661.68 651.70L664.61 651.70M671.61 645.90L667.05 645.90L667.05 651.70L671.61 651.70M667.05 648.66L670.31 648.66M672.59 647.83L676.17 651.70M676.17 647.83L672.59 651.70M677.96 647.83L677.96 651.70M677.96 648.66L678.93 647.83L680.89 647.83L681.54 648.39L681.54 651.70M683.00 649.77L687.24 649.77L687.24 648.66L686.26 647.83L683.98 647.83L683.00 648.66L683.00 650.87L683.98 651.70L686.26 651.70L687.24 651.15M689.19 647.83L689.19 651.70M689.19 649.21L690.17 648.11L690.82 647.83L691.79 647.83M693.58 651.42L693.26 652.53M694.72 647.83L698.30 651.70M698.30 647.83L694.72 651.70M699.77 648.11L706.28 648.11M699.77 650.04L706.28 650.04M709.31 645.90L711.12 645.90L712.34 647.00L712.34 650.60L711.12 651.70L709.31 651.70L708.10 650.60L708.10 647.00L709.31 645.90M714.32 651.53L714.65 651.53M714.32 648.77L714.65 648.77M720.56 645.90L716.94 645.90L716.63 648.39L717.54 647.83L719.96 647.83L720.87 648.66L720.87 650.87L719.96 651.70L717.54 651.70L716.63 650.87M724.26 645.90L726.07 645.90L727.28 647.00L727.28 650.60L726.07 651.70L724.26 651.70L723.05 650.60L723.05 647.00L724.26 645.90M730.67 645.90L732.48 645.90L733.69 647.00L733.69 650.60L732.48 651.70L730.67 651.70L729.46 650.60L729.46 647.00L730.67 645.90M737.08 645.90L738.89 645.90L740.11 647.00L740.11 650.60L738.89 651.70L737.08 651.70L735.87 650.60L735.87 647.00L737.08 645.90M743.50 645.90L745.31 645.90L746.52 647.00L746.52 650.60L745.31 651.70L743.50 651.70L742.29 650.60L742.29 647.00L743.50 645.90M748.83 651.42L748.50 652.53M750.46 647.83L754.04 647.83L750.46 651.70L754.04 651.70M755.50 648.11L762.02 648.11M755.50 650.04L762.02 650.04M765.05 645.90L766.86 645.90L768.07 647.00L768.07 650.60L766.86 651.70L765.05 651.70L763.84 650.60L763.84 647.00L765.05 645.90M770.06 651.53L770.38 651.53M770.06 648.77L770.38 648.77M772.82 647.56L774.09 646.18L774.35 645.90L775.27 645.90L776.70 646.73L776.70 648.11L772.40 651.70L776.96 651.70M780.38 645.90L782.19 645.90L783.40 647.00L783.40 650.60L782.19 651.70L780.38 651.70L779.17 650.60L779.17 647.00L780.38 645.90M786.80 645.90L788.61 645.90L789.82 647.00L789.82 650.60L788.61 651.70L786.80 651.70L785.59 650.60L785.59 647.00L786.80 645.90M793.21 645.90L795.02 645.90L796.23 647.00L796.23 650.60L795.02 651.70L793.21 651.70L792.00 650.60L792.00 647.00L793.21 645.90M799.62 645.90L801.43 645.90L802.64 647.00L802.64 650.60L801.43 651.70L799.62 651.70L798.41 650.60L798.41 647.00L799.62 645.90M804.96 651.42L804.63 652.53M807.40 645.90L807.40 651.15L808.05 651.70L809.02 651.70M806.09 648.11L809.02 648.11M810.33 648.11L816.84 648.11M810.33 650.04L816.84 650.04M823.01 649.77L818.82 649.77L821.61 645.90L821.61 651.70M829.70 649.77L825.52 649.77L828.31 645.90L828.31 651.70M835.98 646.73L835.07 645.90L833.86 645.90L832.35 647.56L832.05 648.94L832.05 650.87L832.95 651.70L835.37 651.70L836.28 650.87L836.28 648.94L835.37 648.11L833.26 648.11L832.05 649.21M842.81 649.77L838.62 649.77L841.41 645.90L841.41 651.70M846.37 645.90L848.18 645.90L849.39 647.00L849.39 650.60L848.18 651.70L846.37 651.70L845.15 650.60L845.15 647.00L846.37 645.90M852.78 645.90L854.59 645.90L855.80 647.00L855.80 650.60L854.59 651.70L852.78 651.70L851.57 650.60L851.57 647.00L852.78 645.90" stroke-width="1.0"/></g><rect x="784" y="192.00" width="18" height="7.08" fill="#ff9898"/><rect x="784" y="198.78" width="18" height="7.08" fill="#ff7070"/><rect x="784" y="205.55" width="18" height="7.08" fill="#ff5555"/><rect x="784" y="212.32" width="18" height="7.08" fill="#ff3838"/><rect x="784" y="219.10" width="18" height="7.08" fill="#ff1818"/><rect x="784" y="225.88" width="18" height="7.08" fill="#ff0a00"/><rect x="784" y="232.65" width="18" height="7.08" fill="#ff3a00"/><rect x="784" y="239.43" width="18" height="7.08" fill="#ff5a00"/><rect x="784" y="246.20" width="18" height="7.08" fill="#ff7800"/><rect x="784" y="252.97" width="18" height="7.08" fill="#ff9000"/><rect x="784" y="259.75" width="18" height="7.08" fill="#ffb000"/><rect x="784" y="266.52" width="18" height="7.08" fill="#ffd400"/><rect x="784" y="273.30" width="18" height="7.08" fill="#ffff00"/><rect x="784" y="280.07" width="18" height="7.08" fill="#e0ff00"/><rect x="784" y="286.85" width="18" height="7.08" fill="#b8ff00"/><rect x="784" y="293.62" width="18" height="7.08" fill="#98ff00"/><rect x="784" y="300.40" width="18" height="7.08" fill="#78ff00"/><rect x="784" y="307.18" width="18" height="7.08" fill="#50ff00"/><rect x="784" y="313.95" width="18" height="7.08" fill="#30ff00"/><rect x="784" y="320.73" width="18" height="7.08" fill="#1eff00"/><rect x="784" y="327.50" width="18" height="7.08" fill="#00ff1e"/><rect x="784" y="334.27" width="18" height="7.08" fill="#00ff46"/><rect x="784" y="341.05" width="18" height="7.08" fill="#00ff70"/><rect x="784" y="347.83" width="18" height="7.08" fill="#00ffa0"/><rect x="784" y="354.60" width="18" height="7.08" fill="#00ffb8"/><rect x="784" y="361.38" width="18" height="7.08" fill="#00ffd0"/><rect x="784" y="368.15" width="18" height="7.08" fill="#00f0f0"/><rect x="784" y="374.93" width="18" height="7.08" fill="#00e0ff"/><rect x="784" y="381.70" width="18" height="7.08" fill="#00c8ff"/><rect x="784" y="388.48" width="18" height="7.08" fill="#00a0ff"/><rect x="784" y="395.25" width="18" height="7.08" fill="#0080ff"/><rect x="784" y="402.02" width="18" height="7.08" fill="#0060ff"/><rect x="784" y="408.80" width="18" height="7.08" fill="#0040ff"/><rect x="784" y="415.58" width="18" height="7.08" fill="#0020ff"/><rect x="784" y="422.35" width="18" height="7.08" fill="#0000ff"/><rect x="784" y="429.12" width="18" height="7.08" fill="#0000d0"/><rect x="784" y="435.90" width="18" height="7.08" fill="#0a00a8"/><rect x="784" y="442.68" width="18" height="7.08" fill="#2000a0"/><rect x="784" y="449.45" width="18" height="7.08" fill="#4400a8"/><rect x="784" y="456.23" width="18" height="7.08" fill="#8800b0"/><path d="M784 219.1H802M784 246.2H802M784 273.3H802M784 300.4H802M784 327.5H802M784 354.6H802M784 381.7H802M784 408.8H802M784 435.9H802" stroke="#000" stroke-width="2"/><rect x="784" y="192" width="18" height="271" fill="none" stroke="#000" stroke-width="2"/><g fill="none" stroke="#000" stroke-linecap="round" stroke-linejoin="round" shape-rendering="auto"><path d="M813.52 186.80L816.53 186.80L818.55 188.70L818.55 194.90L816.53 196.80L813.52 196.80L811.50 194.90L811.50 188.70L813.52 186.80M821.85 196.51L822.39 196.51M827.72 186.80L830.73 186.80L832.75 188.70L832.75 194.90L830.73 196.80L827.72 196.80L825.70 194.90L825.70 188.70L827.72 186.80M838.39 186.80L841.41 186.80L843.42 188.70L843.42 194.90L841.41 196.80L838.39 196.80L836.38 194.90L836.38 188.70L838.39 186.80M853.60 186.80L847.56 186.80L847.05 191.09L848.56 190.13L852.59 190.13L854.10 191.56L854.10 195.37L852.59 196.80L848.56 196.80L847.05 195.37" stroke-width="1.8"/><path d="M812.01 220.75L818.07 220.75L818.07 221.70L815.04 224.56L817.07 224.56L818.58 225.99L818.58 229.32L817.07 230.75L813.01 230.75L811.50 229.32M821.90 230.46L822.45 230.46M825.77 220.75L832.85 220.75L832.85 221.70L828.30 230.75M843.08 220.75L837.01 220.75L836.50 225.04L838.02 224.08L842.07 224.08L843.58 225.51L843.58 229.32L842.07 230.75L838.02 230.75L836.50 229.32M846.63 227.42L853.71 227.42L853.71 225.51L852.08 224.08L848.27 224.08L846.63 225.51L846.63 229.32L848.27 230.75L852.08 230.75L853.71 229.80M856.16 226.46L865.97 226.46M869.53 220.75L875.59 220.75L875.59 221.70L872.56 224.56L874.59 224.56L876.10 225.99L876.10 229.32L874.59 230.75L870.53 230.75L869.02 229.32" stroke-width="1.8"/><path d="M812.21 257.56L814.34 255.18L814.78 254.70L816.30 254.70L818.71 256.13L818.71 258.51L811.50 264.70L819.14 264.70M822.53 264.41L823.08 264.41M833.00 254.70L826.91 254.70L826.41 258.99L827.92 258.03L831.99 258.03L833.50 259.46L833.50 263.27L831.99 264.70L827.92 264.70L826.41 263.27M836.56 261.37L843.66 261.37L843.66 259.46L842.02 258.03L838.20 258.03L836.56 259.46L836.56 263.27L838.20 264.70L842.02 264.70L843.66 263.75M846.12 260.41L855.94 260.41M859.51 254.70L865.59 254.70L865.59 255.65L862.55 258.51L864.58 258.51L866.10 259.94L866.10 263.27L864.58 264.70L860.52 264.70L859.00 263.27" stroke-width="1.8"/><path d="M811.50 291.03L813.06 290.08L814.61 288.65L814.61 298.65M819.09 298.36L819.65 298.36M823.90 291.51L826.11 289.13L826.56 288.65L828.15 288.65L830.64 290.08L830.64 292.46L823.16 298.65L831.09 298.65M841.77 288.65L835.47 288.65L834.94 292.94L836.51 291.98L840.73 291.98L842.30 293.41L842.30 297.22L840.73 298.65L836.51 298.65L834.94 297.22M845.47 295.32L852.83 295.32L852.83 293.41L851.13 291.98L847.17 291.98L845.47 293.41L845.47 297.22L847.17 298.65L851.13 298.65L852.83 297.70M855.38 294.36L865.57 294.36M869.27 288.65L875.57 288.65L875.57 289.60L872.42 292.46L874.53 292.46L876.10 293.89L876.10 297.22L874.53 298.65L870.31 298.65L868.74 297.22" stroke-width="1.8"/><path d="M813.73 322.60L817.07 322.60L819.30 324.50L819.30 330.70L817.07 332.60L813.73 332.60L811.50 330.70L811.50 324.50L813.73 322.60" stroke-width="1.8"/><path d="M811.50 362.26L821.19 362.26M827.27 358.93L828.75 357.98L830.23 356.55L830.23 366.55M834.49 366.26L835.03 366.26M839.06 359.41L841.16 357.03L841.59 356.55L843.10 356.55L845.47 357.98L845.47 360.36L838.36 366.55L845.90 366.55M856.06 356.55L850.06 356.55L849.56 360.84L851.06 359.88L855.06 359.88L856.56 361.31L856.56 365.12L855.06 366.55L851.06 366.55L849.56 365.12M859.58 363.22L866.57 363.22L866.57 361.31L864.96 359.88L861.19 359.88L859.58 361.31L859.58 365.12L861.19 366.55L864.96 366.55L866.57 365.60M869.00 362.26L878.69 362.26M882.20 356.55L888.20 356.55L888.20 357.50L885.20 360.36L887.20 360.36L888.70 361.79L888.70 365.12L887.20 366.55L883.20 366.55L881.70 365.12" stroke-width="1.8"/><path d="M811.50 396.21L821.26 396.21M825.06 393.36L827.18 390.98L827.61 390.50L829.13 390.50L831.52 391.93L831.52 394.31L824.36 400.50L831.95 400.50M835.31 400.21L835.86 400.21M845.71 390.50L839.67 390.50L839.16 394.79L840.67 393.83L844.71 393.83L846.22 395.26L846.22 399.07L844.71 400.50L840.67 400.50L839.16 399.07M849.25 397.17L856.31 397.17L856.31 395.26L854.68 393.83L850.88 393.83L849.25 395.26L849.25 399.07L850.88 400.50L854.68 400.50L856.31 399.55M858.75 396.21L868.51 396.21M872.05 390.50L878.10 390.50L878.10 391.45L875.07 394.31L877.09 394.31L878.60 395.74L878.60 399.07L877.09 400.50L873.06 400.50L871.55 399.07" stroke-width="1.8"/><path d="M811.50 430.16L821.27 430.16M824.82 424.45L830.87 424.45L830.87 425.40L827.84 428.26L829.86 428.26L831.37 429.69L831.37 433.02L829.86 434.45L825.82 434.45L824.31 433.02M834.68 434.16L835.22 434.16M838.54 424.45L845.59 424.45L845.59 425.40L841.06 434.45M855.78 424.45L849.74 424.45L849.23 428.74L850.74 427.78L854.78 427.78L856.29 429.21L856.29 433.02L854.78 434.45L850.74 434.45L849.23 433.02M859.33 431.12L866.39 431.12L866.39 429.21L864.76 427.78L860.96 427.78L859.33 429.21L859.33 433.02L860.96 434.45L864.76 434.45L866.39 433.50M868.83 430.16L878.60 430.16M882.15 424.45L888.20 424.45L888.20 425.40L885.17 428.26L887.19 428.26L888.70 429.69L888.70 433.02L887.19 434.45L883.15 434.45L881.64 433.02" stroke-width="1.8"/><path d="M811.50 464.11L821.33 464.11M826.42 458.40L829.45 458.40L831.48 460.30L831.48 466.50L829.45 468.40L826.42 468.40L824.39 466.50L824.39 460.30L826.42 458.40M834.81 468.11L835.36 468.11M840.72 458.40L843.76 458.40L845.79 460.30L845.79 466.50L843.76 468.40L840.72 468.40L838.69 466.50L838.69 460.30L840.72 458.40M851.48 458.40L854.51 458.40L856.54 460.30L856.54 466.50L854.51 468.40L851.48 468.40L849.45 466.50L849.45 460.30L851.48 458.40M866.79 458.40L860.71 458.40L860.20 462.69L861.72 461.73L865.78 461.73L867.30 463.16L867.30 466.97L865.78 468.40L861.72 468.40L860.20 466.97" stroke-width="1.8"/></g>
</svg></body></html>
